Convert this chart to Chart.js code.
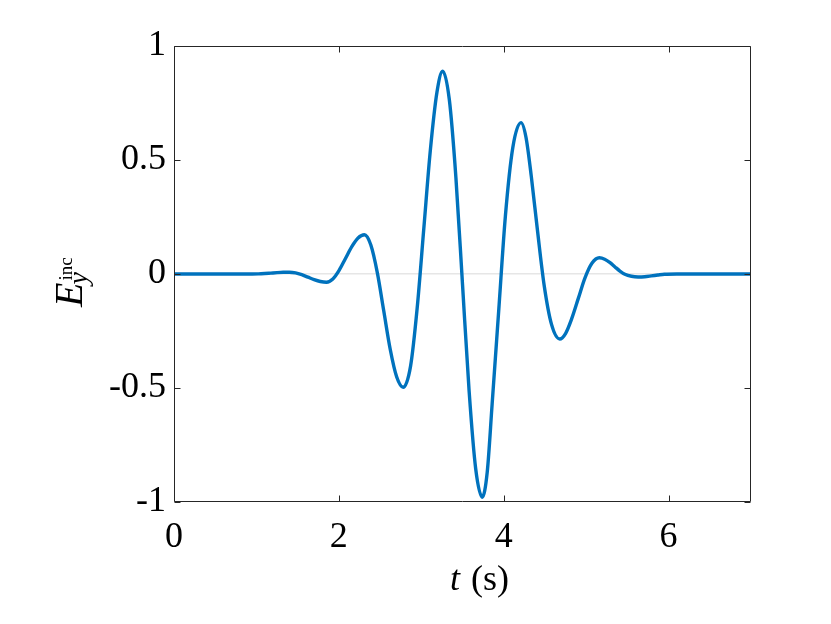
<!DOCTYPE html>
<html>
<head>
<meta charset="utf-8">
<script src="https://cdn.jsdelivr.net/npm/chart.js@4.4.0/dist/chart.umd.min.js"></script>
<style>
  html, body { margin: 0; padding: 0; background: #ffffff; }
  #wrap { width: 831px; height: 624px; position: relative; }
</style>
</head>
<body>
<div id="wrap"><canvas id="c"></canvas></div>
<script>
// ---- data ----
const tValues = [0, 0.5, 0.95, 1.025, 1.10, 1.175, 1.25, 1.325,
  1.40, 1.475, 1.55, 1.625, 1.70, 1.775,
  1.85, 1.927, 2.003, 2.08, 2.157, 2.233,
  2.31, 2.388, 2.467, 2.545, 2.623, 2.702,
  2.78, 2.87, 2.95, 3.03, 3.11, 3.19,
  3.26, 3.34, 3.42, 3.50, 3.58, 3.66,
  3.74, 3.80, 3.86, 3.94, 4.02, 4.11,
  4.21, 4.27, 4.335, 4.41, 4.49, 4.58,
  4.68, 4.75, 4.825, 4.905, 4.985, 5.07,
  5.16, 5.225, 5.29, 5.35, 5.41, 5.47, 5.55,
  5.63, 5.71, 5.79, 5.87, 5.95, 6.1, 6.5, 7.0];
const eValues = [0, 0, 0, 0.0005, 0.002, 0.004, 0.006, 0.0075,
  0.008, 0.005, -0.003, -0.014, -0.025, -0.033,
  -0.036, -0.022, 0.016, 0.068, 0.12, 0.158,
  0.172, 0.127, 0.005, -0.1625, -0.33, -0.452,
  -0.497, -0.404, -0.15, 0.1965, 0.543, 0.797,
  0.89, 0.765, 0.423, -0.0445, -0.512, -0.854,
  -0.979, -0.869, -0.568, -0.1575, 0.253, 0.554,
  0.664, 0.600, 0.427, 0.1895, -0.048, -0.221,
  -0.285, -0.261, -0.196, -0.107, -0.018, 0.047,
  0.071, 0.065, 0.050, 0.031, 0.013, -0.001, -0.010,
  -0.013, -0.012, -0.0085, -0.0045, -0.001, 0, 0, 0];
const xTickValues = [0, 2, 4, 6];
const xTickLabels = ['0', '2', '4', '6'];
const yTickValues = [-1, -0.5, 0, 0.5, 1];
const yTickLabels = ['-1', '-0.5', '0', '0.5', '1'];
const xTitleItalic = 't';
const xTitleRest = ' (s)';
const yTitleMain = 'E';
const yTitleSub = 'y';
const yTitleSup = 'inc';

const points = tValues.map((t, i) => ({ x: t, y: eValues[i] }));
const SERIF = '"Liberation Serif", "Times New Roman", serif';
const AXIS_COLOR = '#262626';

const boxPlugin = {
  id: 'boxPlugin',
  afterDraw(chart) {
    const { ctx, chartArea: a, scales } = chart;
    const xs = scales.x, ys = scales.y;
    const L = Math.round(a.left) + 0.5, R = Math.round(a.right) - 0.5;
    const T = Math.round(a.top) + 0.5, B = Math.round(a.bottom) - 0.5;
    ctx.save();
    ctx.strokeStyle = AXIS_COLOR;
    ctx.lineWidth = 1;
    ctx.beginPath();
    ctx.rect(L, T, R - L, B - T);
    const tl = 6;
    xs.ticks.forEach(tk => {
      const px = Math.round(xs.getPixelForValue(tk.value)) + 0.5;
      ctx.moveTo(px, B); ctx.lineTo(px, B - tl);
      ctx.moveTo(px, T); ctx.lineTo(px, T + tl);
    });
    ys.ticks.forEach(tk => {
      const py = Math.round(ys.getPixelForValue(tk.value)) + 0.5;
      ctx.moveTo(L, py); ctx.lineTo(L + tl, py);
      ctx.moveTo(R, py); ctx.lineTo(R - tl, py);
    });
    ctx.stroke();

    // x title
    ctx.fillStyle = '#000';
    ctx.textBaseline = 'alphabetic';
    ctx.textAlign = 'left';
    ctx.font = 'italic 36px ' + SERIF;
    const w1 = ctx.measureText(xTitleItalic).width;
    ctx.font = '36px ' + SERIF;
    const w2 = ctx.measureText(xTitleRest).width;
    const cx = (a.left + a.right) / 2 + 16;
    let sx = cx - (w1 + w2) / 2;
    ctx.font = 'italic 36px ' + SERIF;
    ctx.fillText(xTitleItalic, sx, 590);
    ctx.font = '36px ' + SERIF;
    ctx.fillText(xTitleRest, sx + w1 + 2, 590);

    // y title (rotated)
    ctx.translate(82, 292);
    ctx.rotate(-Math.PI / 2);
    ctx.font = 'italic 40px ' + SERIF;
    ctx.fillText(yTitleMain, -15, 0);
    const eW = ctx.measureText(yTitleMain).width;
    ctx.font = 'italic 28px ' + SERIF;
    ctx.fillText(yTitleSub, -15 + eW - 2, 5);
    ctx.font = '19px ' + SERIF;
    ctx.fillText(yTitleSup, -15 + eW + 2, -10);
    ctx.restore();
  }
};

new Chart(document.getElementById('c'), {
  type: 'line',
  data: {
    datasets: [{
      data: points,
      borderColor: '#0072BD',
      borderWidth: 3.4,
      pointRadius: 0,
      fill: false,
      cubicInterpolationMode: 'monotone'
    }]
  },
  options: {
    responsive: true,
    maintainAspectRatio: false,
    animation: false,
    events: [],
    layout: { padding: { top: 46, right: 80, left: 0, bottom: 0 } },
    plugins: { legend: { display: false }, tooltip: { enabled: false }, title: { display: false } },
    scales: {
      x: {
        type: 'linear',
        min: 0, max: 7,
        afterBuildTicks: s => { s.ticks = xTickValues.map(v => ({ value: v })); },
        afterFit: s => { s.height = 122; },
        grid: { display: false, drawTicks: false },
        border: { display: false },
        ticks: {
          color: '#000',
          font: { family: SERIF, size: 36 },
          padding: 14,
          maxRotation: 0,
          callback: (v) => xTickLabels[xTickValues.indexOf(v)]
        }
      },
      y: {
        type: 'linear',
        min: -1, max: 1,
        afterBuildTicks: s => { s.ticks = yTickValues.map(v => ({ value: v })); },
        afterFit: s => { s.width = 174; },
        grid: {
          drawTicks: false,
          lineWidth: 1.5,
          color: ctx => (ctx.tick && ctx.tick.value === 0) ? '#e6e6e6' : 'rgba(0,0,0,0)'
        },
        border: { display: false },
        ticks: {
          color: '#000',
          font: { family: SERIF, size: 36 },
          padding: 8,
          callback: (v) => yTickLabels[yTickValues.indexOf(v)]
        }
      }
    }
  },
  plugins: [boxPlugin]
});
</script>
</body>
</html>
